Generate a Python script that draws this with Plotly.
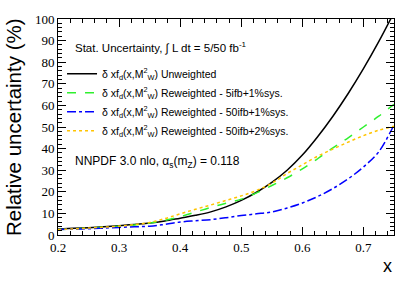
import plotly.graph_objects as go

x_vals = [0.200, 0.225, 0.250, 0.275, 0.300, 0.325, 0.350, 0.375, 0.400, 0.425, 0.450, 0.475,
          0.500, 0.525, 0.550, 0.575, 0.600, 0.625, 0.650, 0.675, 0.700, 0.725, 0.750]

unweighted = [2.8, 3.1, 3.4, 3.8, 4.3, 4.9, 5.5, 6.5, 7.8, 9.1, 10.7, 13.0,
              16.0, 19.8, 24.4, 30.0, 37.0, 45.5, 55.0, 65.5, 77.0, 89.5, 103.0]
rew_5ifb_1 = [2.5, 2.8, 3.2, 3.6, 4.0, 4.6, 5.5, 6.8, 8.5, 10.6, 12.8, 14.7,
              16.6, 19.5, 22.9, 26.5, 30.6, 35.3, 40.3, 45.0, 50.0, 55.0, 60.5]
rew_50ifb_1 = [2.5, 2.7, 2.9, 3.2, 3.5, 3.8, 4.1, 4.9, 6.0, 6.6, 7.1, 8.0,
               9.0, 9.8, 10.7, 12.5, 14.8, 17.8, 21.5, 26.0, 31.5, 38.5, 51.0]
rew_50ifb_2 = [2.5, 2.8, 3.2, 3.6, 4.1, 4.8, 5.8, 7.6, 9.8, 11.9, 13.9, 16.0,
               18.1, 20.6, 24.0, 28.5, 32.5, 36.5, 39.8, 43.0, 46.0, 48.5, 50.3]

pdf_lbl = "δ xf<sub>d</sub>(x,M<sup>2</sup><sub>W</sub>)"
series_names = [pdf_lbl + " Unweighted",
                pdf_lbl + " Reweighted - 5ifb+1%sys.",
                pdf_lbl + " Reweighted - 50ifb+1%sys.",
                pdf_lbl + " Reweighted - 50ifb+2%sys."]
series_vals = [unweighted, rew_5ifb_1, rew_50ifb_1, rew_50ifb_2]
series_col = ["#000000", "#2ef02e", "#0000ff", "#ffc400"]
series_dash = ["solid", "dash", "dashdot", "dot"]

x_ticks = [0.2, 0.3, 0.4, 0.5, 0.6, 0.7]
y_ticks = [0, 10, 20, 30, 40, 50, 60, 70, 80, 90, 100]

fig = go.Figure()
for i, (nm, vals, col, dsh) in enumerate(zip(series_names, series_vals, series_col, series_dash)):
    fig.add_trace(go.Scatter(x=x_vals, y=vals, mode="lines", name=nm,
                             legendgroup=f"g{i}",
                             line=dict(color=col, dash=dsh, width=1.5, shape="spline")))

serif = "Liberation Serif, DejaVu Serif, serif"
axis_common = dict(showline=True, linecolor="black", linewidth=1, mirror="ticks",
                   ticks="inside", ticklen=8, tickcolor="black", tickwidth=1,
                   showgrid=False, zeroline=False,
                   tickfont=dict(family=serif, size=13, color="black"))

fig.update_xaxes(range=[0.2, 0.75], tickvals=x_ticks, ticktext=[str(v) for v in x_ticks],
                 minor=dict(ticks="inside", ticklen=4, dtick=0.02, tick0=0.2, tickcolor="black"),
                 **axis_common)
fig.update_yaxes(range=[0, 100], tickvals=y_ticks, ticktext=[str(v) for v in y_ticks],
                 minor=dict(ticks="inside", ticklen=4, dtick=2, tick0=0, tickcolor="black"),
                 **axis_common)

fig.update_layout(
    width=415, height=281,
    margin=dict(l=58, r=21, t=14, b=46),
    plot_bgcolor="white", paper_bgcolor="white",
    font=dict(family="Liberation Sans", color="black"),
    showlegend=True,
    legend=dict(x=0.012, y=0.814, xanchor="left", yanchor="top",
                bgcolor="rgba(0,0,0,0)", font=dict(size=10.5, family="Liberation Sans"),
                tracegroupgap=0, itemwidth=30),
    annotations=[
        dict(text="Stat. Uncertainty, ∫ L dt = 5/50 fb<sup>-1</sup>", xref="paper", yref="paper",
             x=0.045, y=0.869, xanchor="left", yanchor="middle", showarrow=False,
             font=dict(size=11.5)),
        dict(text="NNPDF 3.0 nlo, α<sub>s</sub>(m<sub>Z</sub>) = 0.118", xref="paper", yref="paper",
             x=0.045, y=0.34, xanchor="left", yanchor="middle", showarrow=False,
             font=dict(size=12)),
        dict(text="Relative uncertainty (%)", xref="paper", yref="paper",
             x=-0.132, y=0.498, xanchor="center", yanchor="middle", textangle=-90,
             showarrow=False, font=dict(size=20.5)),
        dict(text="x", xref="paper", yref="paper",
             x=0.982, y=-0.145, xanchor="center", yanchor="middle",
             showarrow=False, font=dict(size=18)),
    ],
)

fig.write_html("out.html", config={"displayModeBar": False},
               post_script="document.body.style.margin='0px';document.body.style.overflow='hidden';")
